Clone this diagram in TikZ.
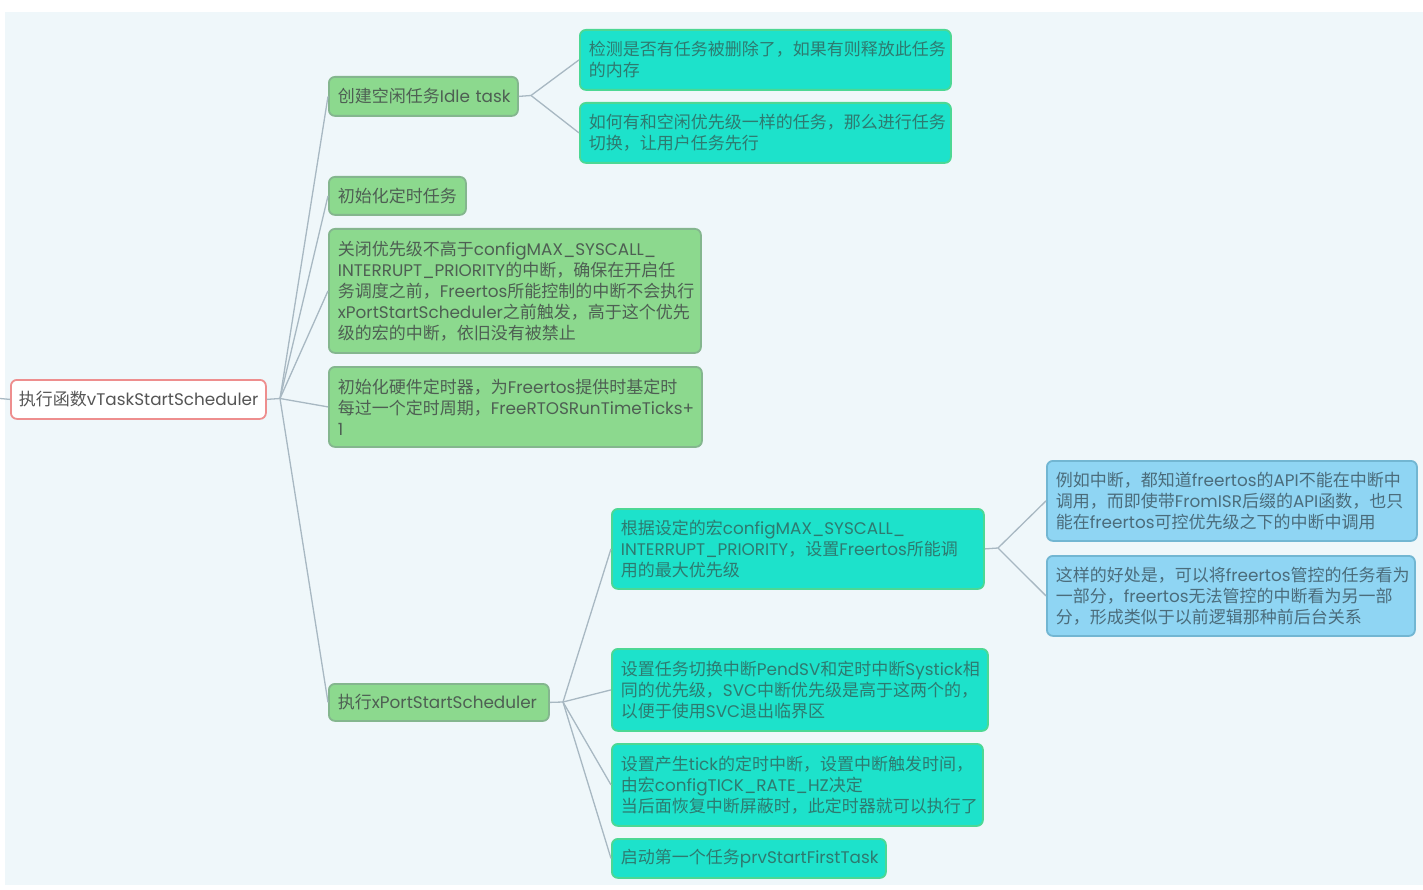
\documentclass[tikz,border=0pt]{standalone}
\usepackage{fontspec}
\setmainfont{Poppins}[Scale=0.99]
\newfontfamily\cjk{Noto Sans CJK SC}
\newcommand\zhx[1]{{\cjk #1}}
\definecolor{bgc}{HTML}{EFF7FA}
\definecolor{gfill}{HTML}{8CD98E}
\definecolor{gdraw}{HTML}{84B68E}
\definecolor{gtext}{HTML}{4E5F53}
\definecolor{cfill}{HTML}{1DE2CB}
\definecolor{cdraw}{HTML}{4CD894}
\definecolor{ctext}{HTML}{2E7A70}
\definecolor{bfill}{HTML}{8FD5F3}
\definecolor{bdraw}{HTML}{72B6D2}
\definecolor{btext}{HTML}{4B6C7B}
\definecolor{rdraw}{HTML}{EE8E8E}
\definecolor{rtext}{HTML}{555555}
\definecolor{connc}{HTML}{A8B8C2}
\tikzset{
  box/.style={rectangle, rounded corners=6pt, line width=1.8pt, anchor=north west,
    inner xsep=9pt, inner ysep=0pt, align=left, font=\fontsize{17}{21}\selectfont},
  gbox/.style={box, fill=gfill, draw=gdraw, text=gtext},
  cbox/.style={box, fill=cfill, draw=cdraw, text=ctext},
  bbox/.style={box, fill=bfill, draw=bdraw, text=btext},
  rbox/.style={box, fill=white, draw=rdraw, text=rtext, inner xsep=8pt},
  conn/.style={draw=connc, line width=1.3pt}
}
\begin{document}
\begin{tikzpicture}[x=1pt,y=-1pt]
\useasboundingbox (0,0) rectangle (1423,890);
\fill[bgc] (5,12) rectangle (1423,885);

\node[rbox, text width=239pt, minimum height=39pt] (root) at (10,379) {\zhx{执行函数}vTaskStartScheduler};

\node[gbox, text width=171pt, minimum height=39pt] (idle) at (328,76) {\zhx{创建空闲任务}Idle~task};
\node[cbox, text width=353pt, minimum height=60pt] (del) at (579,29) {\zhx{检测是否有任务被删除了，如果有则释放此任务}\\\zhx{的内存}};
\node[cbox, text width=353pt, minimum height=60pt] (same) at (579,102) {\zhx{如何有和空闲优先级一样的任务，那么进行任务}\\\zhx{切换，让用户任务先行}};

\node[gbox, text width=119pt, minimum height=38pt] (tmr) at (328,176) {\zhx{初始化定时任务}};

\node[gbox, text width=354pt, minimum height=124pt] (close) at (328,228) {\zhx{关闭优先级不高于}configMAX\_SYSCALL\_\\INTERRUPT\_PRIORITY\zhx{的中断，确保在开启任}\\\zhx{务调度之前，}Freertos\zhx{所能控制的中断不会执行}\\xPortStartScheduler\zhx{之前触发，高于这个优先}\\\zhx{级的宏的中断，依旧没有被禁止}};

\node[gbox, text width=355pt, minimum height=80pt] (hw) at (328,366) {\zhx{初始化硬件定时器，为}Freertos\zhx{提供时基定时}\\\zhx{每过一个定时周期，}FreeRTOSRunTimeTicks+\\1};

\node[gbox, text width=202pt, minimum height=37pt] (xport) at (328,683) {\zhx{执行}xPortStartScheduler};

\node[cbox, text width=354pt, minimum height=80pt] (prio) at (611,508) {\zhx{根据设定的宏}configMAX\_SYSCALL\_\\INTERRUPT\_PRIORITY\zhx{，设置}Freertos\zhx{所能调}\\\zhx{用的最大优先级}};

\node[bbox, text width=352pt, minimum height=80pt] (api) at (1046,460) {\zhx{例如中断，都知道}freertos\zhx{的}API\zhx{不能在中断中}\\\zhx{调用，而即使带}FromISR\zhx{后缀的}API\zhx{函数，也只}\\\zhx{能在}freertos\zhx{可控优先级之下的中断中调用}};

\node[bbox, text width=350pt, minimum height=80pt] (good) at (1046,555) {\zhx{这样的好处是，可以将}freertos\zhx{管控的任务看为}\\\zhx{一部分，}freertos\zhx{无法管控的中断看为另一部}\\\zhx{分，形成类似于以前逻辑那种前后台关系}};

\node[cbox, text width=358pt, minimum height=82pt] (pend) at (611,648) {\zhx{设置任务切换中断}PendSV\zhx{和定时中断}Systick\zhx{相}\\\zhx{同的优先级，}SVC\zhx{中断优先级是高于这两个的，}\\\zhx{以便于使用}SVC\zhx{退出临界区}};

\node[cbox, text width=353pt, minimum height=82pt] (tick) at (611,743) {\zhx{设置产生}tick\zhx{的定时中断，设置中断触发时间，}\\\zhx{由宏}configTICK\_RATE\_HZ\zhx{决定}\\\zhx{当后面恢复中断屏蔽时，此定时器就可以执行了}};

\node[cbox, text width=256pt, minimum height=39pt] (first) at (611,838) {\zhx{启动第一个任务}prvStartFirstTask};

% connectors
\coordinate (stub) at (0,398.5);
\coordinate (b0) at (280,398.5);
\coordinate (b1) at (531,95.5);
\coordinate (b2) at (563,702);
\coordinate (b3) at (998,548);
\draw[conn] (stub) -- (root.west);
\draw[conn] (root.east) -- (b0);
\foreach \n in {idle,tmr,close,hw,xport} \draw[conn] (b0) -- (\n.west);
\draw[conn] (idle.east) -- (b1);
\foreach \n in {del,same} \draw[conn] (b1) -- (\n.west);
\draw[conn] (xport.east) -- (b2);
\foreach \n in {prio,pend,tick,first} \draw[conn] (b2) -- (\n.west);
\draw[conn] (prio.east) -- (b3);
\foreach \n in {api,good} \draw[conn] (b3) -- (\n.west);
\end{tikzpicture}
\end{document}
